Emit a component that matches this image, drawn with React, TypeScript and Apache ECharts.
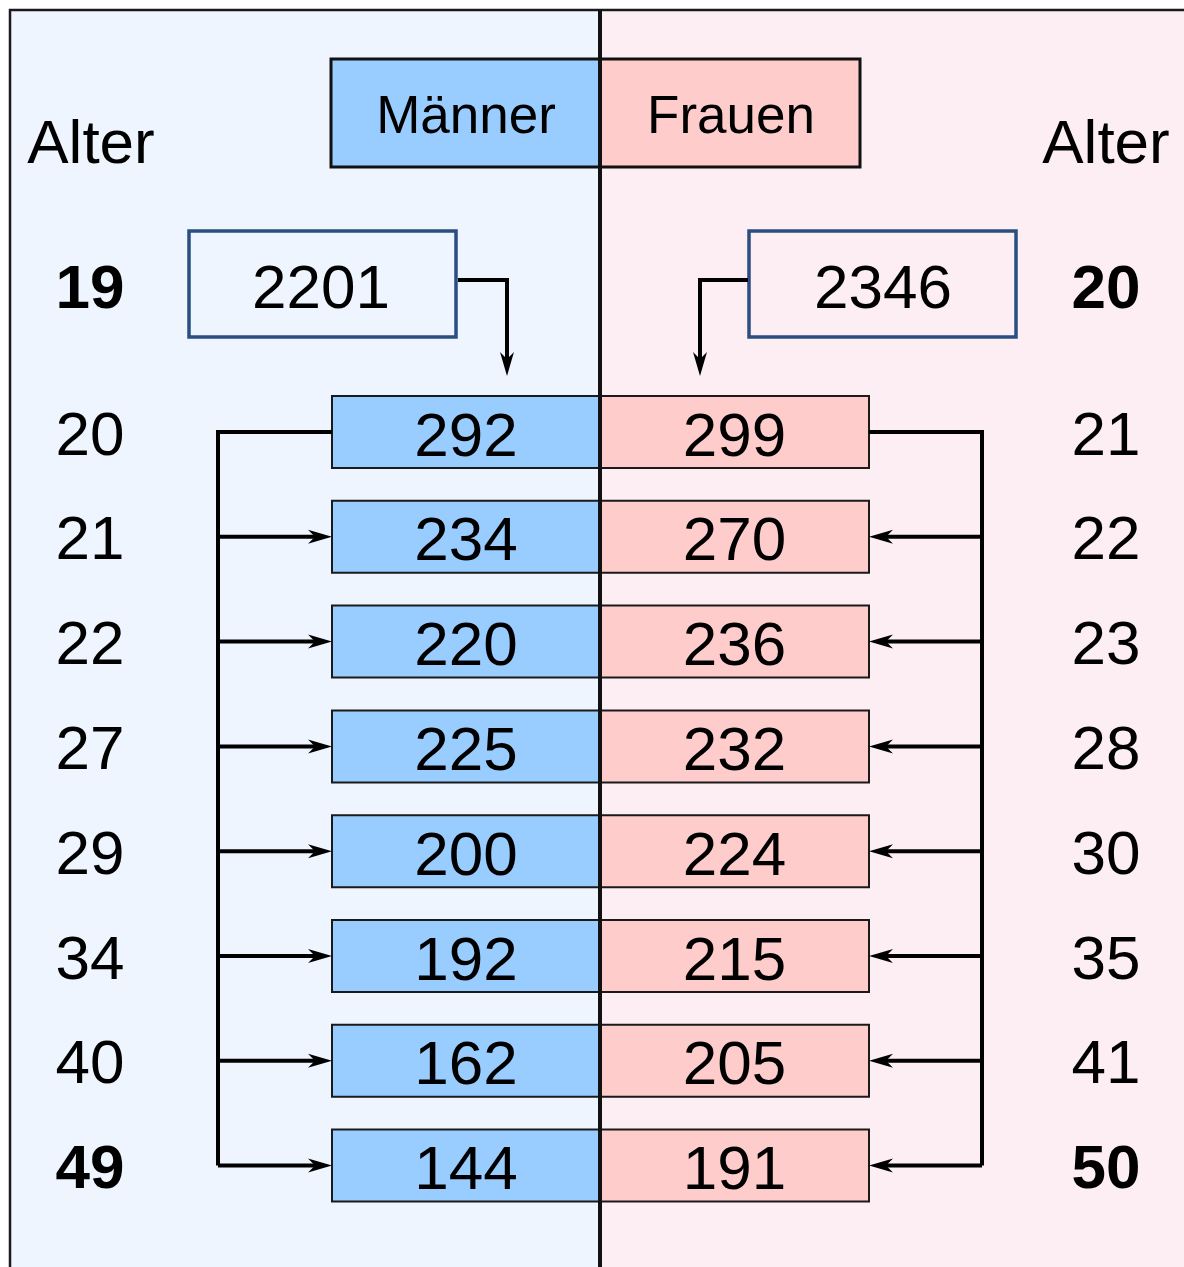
import React, { useEffect, useRef } from "react";
import * as echarts from "echarts";

// ---- data ----
const AGES_MEN = [20, 21, 22, 27, 29, 34, 40, 49];
const AGES_WOMEN = [21, 22, 23, 28, 30, 35, 41, 50];
const VALUES_MEN = [292, 234, 220, 225, 200, 192, 162, 144];
const VALUES_WOMEN = [299, 270, 236, 232, 224, 215, 205, 191];
const TOTAL_MEN = 2201;
const TOTAL_WOMEN = 2346;
const TOTAL_AGE_MEN = 19;
const TOTAL_AGE_WOMEN = 20;
const LEGEND_LABELS = ["Männer", "Frauen"];
const AXIS_TITLE = "Alter";

// ---- layout / style ----
const W = 1184;
const H = 1267;
const FONT = '"Liberation Sans", Arial, sans-serif';
const BLUE = "#99CCFF";
const PINK = "#FFCCCC";
const BG_LEFT = "#EEF5FE";
const BG_RIGHT = "#FDEEF4";
const TOTAL_STROKE = "#2A4E80";
const MID = 600;
const BAR_L = 332;
const BAR_R = 869;
const BAR_H = 72;
const LEFT_RAIL = 218;
const RIGHT_RAIL = 982;
const AGE_L = 90;
const AGE_R = 1106;
const LW = 4;

function head(tx: number, ty: number, dir: "right" | "left" | "down") {
  const L = 24, Wd = 7, N = 17;
  if (dir === "right") return [[tx, ty], [tx - L, ty - Wd], [tx - N, ty], [tx - L, ty + Wd]];
  if (dir === "left") return [[tx, ty], [tx + L, ty - Wd], [tx + N, ty], [tx + L, ty + Wd]];
  return [[tx, ty], [tx - Wd, ty - L], [tx, ty - N], [tx + Wd, ty - L]];
}

function txt(text: string | number, x: number, y: number, size: number, bold = false) {
  return {
    type: "text",
    x,
    y,
    style: {
      text: String(text),
      fontSize: size,
      fontFamily: FONT,
      fontWeight: bold ? "bold" : "normal",
      fill: "#000",
      align: "center",
      textAlign: "center",
      verticalAlign: "middle",
      textVerticalAlign: "middle",
    },
  };
}

export default function App() {
  const ref = useRef<HTMLDivElement>(null);
  useEffect(() => {
    if (!ref.current) return;
    const chart = echarts.init(ref.current, null, { renderer: "svg", width: W, height: H });
    const n = VALUES_MEN.length;
    const rows = VALUES_MEN.map((v, i) => [i, v, VALUES_WOMEN[i], AGES_MEN[i], AGES_WOMEN[i]]);

    const renderItem = (params: any, api: any) => {
      const i = api.value(0);
      const cy = api.coord([0, i])[1];
      const lastY = api.coord([0, n - 1])[1];
      const bold = i === n - 1;
      const children: any[] = [
        {
          type: "rect",
          shape: { x: BAR_L, y: cy - BAR_H / 2, width: MID - BAR_L, height: BAR_H },
          style: { fill: BLUE, stroke: "#1a1a1a", lineWidth: 2 },
        },
        {
          type: "rect",
          shape: { x: MID, y: cy - BAR_H / 2, width: BAR_R - MID, height: BAR_H },
          style: { fill: PINK, stroke: "#1a1a1a", lineWidth: 2 },
        },
        txt(api.value(1), (BAR_L + MID) / 2, cy + 2, 62),
        txt(api.value(2), (MID + BAR_R) / 2, cy + 2, 62),
        txt(api.value(3), AGE_L, cy + 1, 62, bold),
        txt(api.value(4), AGE_R, cy + 1, 62, bold),
      ];
      if (i === 0) {
        children.push({
          type: "polyline",
          shape: { points: [[BAR_L, cy], [LEFT_RAIL, cy], [LEFT_RAIL, lastY]] },
          style: { stroke: "#000", lineWidth: LW, fill: null },
        });
        children.push({
          type: "polyline",
          shape: { points: [[BAR_R, cy], [RIGHT_RAIL, cy], [RIGHT_RAIL, lastY]] },
          style: { stroke: "#000", lineWidth: LW, fill: null },
        });
      } else {
        children.push({
          type: "line",
          shape: { x1: LEFT_RAIL, y1: cy, x2: BAR_L - 17, y2: cy },
          style: { stroke: "#000", lineWidth: LW },
        });
        children.push({
          type: "polygon",
          shape: { points: head(BAR_L, cy, "right") },
          style: { fill: "#000" },
        });
        children.push({
          type: "line",
          shape: { x1: RIGHT_RAIL, y1: cy, x2: BAR_R + 17, y2: cy },
          style: { stroke: "#000", lineWidth: LW },
        });
        children.push({
          type: "polygon",
          shape: { points: head(BAR_R, cy, "left") },
          style: { fill: "#000" },
        });
      }
      return { type: "group", children };
    };

    const option: any = {
      animation: false,
      grid: { left: 0, right: 0, top: 379.6, height: 838.4 },
      xAxis: { type: "value", min: 0, max: W, show: false },
      yAxis: {
        type: "category",
        inverse: true,
        show: false,
        data: rows.map((_, i) => String(i)),
      },
      graphic: [
        { type: "rect", z: -10, shape: { x: 10, y: 10, width: MID - 10, height: H }, style: { fill: BG_LEFT } },
        { type: "rect", z: -10, shape: { x: MID, y: 10, width: W, height: H }, style: { fill: BG_RIGHT } },
        {
          type: "rect",
          z: 50,
          shape: { x: 10, y: 10, width: W + 50, height: H + 50 },
          style: { fill: null, stroke: "#1a1a1a", lineWidth: 2.5 },
        },
        // legend
        {
          type: "rect",
          z: 1,
          shape: { x: 331, y: 59, width: MID - 331, height: 108 },
          style: { fill: BLUE, stroke: "#111", lineWidth: 3 },
        },
        {
          type: "rect",
          z: 1,
          shape: { x: MID, y: 59, width: 860 - MID, height: 108 },
          style: { fill: PINK, stroke: "#111", lineWidth: 3 },
        },
        { ...txt(LEGEND_LABELS[0], 466, 114, 53), z: 2 },
        { ...txt(LEGEND_LABELS[1], 731, 114, 53), z: 2 },
        { ...txt(AXIS_TITLE, 91, 141, 62), z: 2 },
        { ...txt(AXIS_TITLE, 1106, 141, 62), z: 2 },
        // totals
        {
          type: "rect",
          z: 1,
          shape: { x: 189, y: 231, width: 267, height: 106 },
          style: { fill: null, stroke: TOTAL_STROKE, lineWidth: 3.5 },
        },
        {
          type: "rect",
          z: 1,
          shape: { x: 749, y: 231, width: 267, height: 106 },
          style: { fill: null, stroke: TOTAL_STROKE, lineWidth: 3.5 },
        },
        { ...txt(TOTAL_MEN, 321, 286, 62), z: 2 },
        { ...txt(TOTAL_WOMEN, 883, 286, 62), z: 2 },
        { ...txt(TOTAL_AGE_MEN, AGE_L, 286, 62, true), z: 2 },
        { ...txt(TOTAL_AGE_WOMEN, AGE_R, 286, 62, true), z: 2 },
        {
          type: "polyline",
          z: 2,
          shape: { points: [[458, 280], [507, 280], [507, 360]] },
          style: { stroke: "#000", lineWidth: LW, fill: null },
        },
        { type: "polygon", z: 2, shape: { points: head(507, 376, "down") }, style: { fill: "#000" } },
        {
          type: "polyline",
          z: 2,
          shape: { points: [[748, 280], [700, 280], [700, 360]] },
          style: { stroke: "#000", lineWidth: LW, fill: null },
        },
        { type: "polygon", z: 2, shape: { points: head(700, 376, "down") }, style: { fill: "#000" } },
        // divider
        {
          type: "line",
          z: 60,
          shape: { x1: MID, y1: 10, x2: MID, y2: H + 10 },
          style: { stroke: "#111", lineWidth: 4 },
        },
      ],
      series: [
        {
          type: "custom",
          z: 5,
          clip: false,
          encode: { x: 1, y: 0 },
          data: rows,
          renderItem,
          silent: true,
        },
      ],
    };
    chart.setOption(option);
    return () => chart.dispose();
  }, []);

  return (
    <div
      ref={ref}
      style={{ position: "fixed", left: 0, top: 0, width: W, height: H, background: "#fff" }}
    />
  );
}
